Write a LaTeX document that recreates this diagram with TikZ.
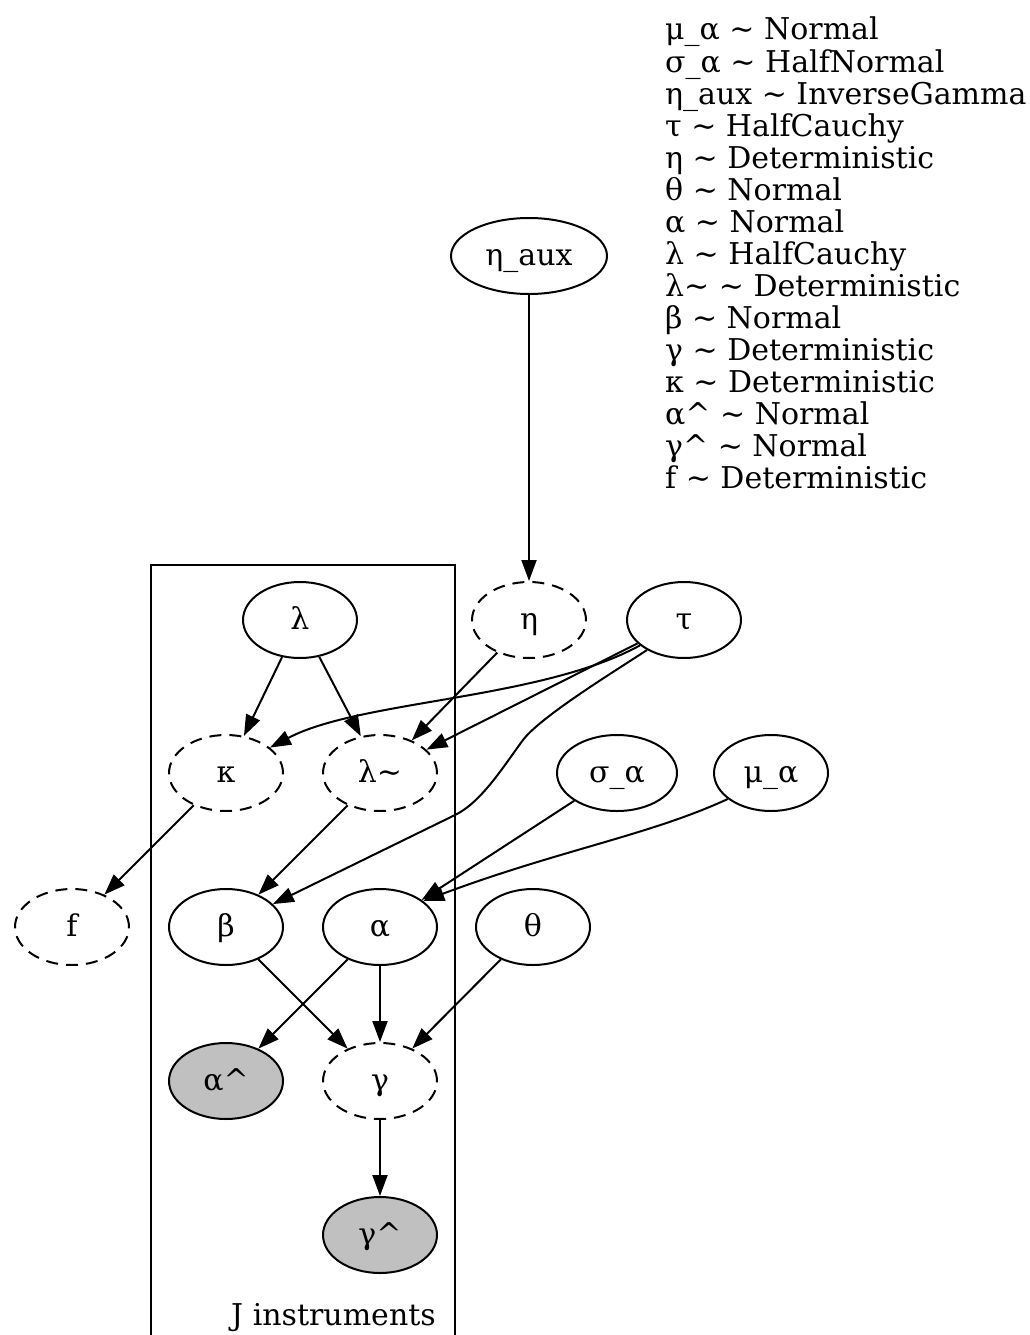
\documentclass[tikz,border=0pt]{standalone}
\usepackage{fontspec}
\setmainfont{DejaVu Serif}
\usetikzlibrary{arrows.meta,shapes.geometric}
\definecolor{obsgray}{HTML}{C0C0C0}
\begin{document}
\begin{tikzpicture}[x=1pt,y=-1pt,
  lbl/.style={font=\fontsize{30}{32}\selectfont},
  rv/.style={ellipse, draw, line width=2pt, minimum width=114pt, minimum height=76pt,
    inner sep=0pt, lbl, text height=19pt, text depth=0pt},
  det/.style={rv, dash pattern=on 12pt off 8pt},
  obs/.style={rv, fill=obsgray},
  edge/.style={-{Triangle[length=21pt,width=15pt]}, line width=2pt}]
\useasboundingbox (0,0) rectangle (1029,1335);
\clip (0,0) rectangle (1029,1335);

% plate
\draw[line width=2pt] (151,1345) -- (151,565) -- (455,565) -- (455,1345);
\node[lbl, anchor=base east, inner sep=0pt] (plabel) at (436,1325) {J instruments};

% legend
\foreach \t [count=\i] in {μ\_α \textasciitilde{} Normal, σ\_α \textasciitilde{} HalfNormal,
  η\_aux \textasciitilde{} InverseGamma, τ \textasciitilde{} HalfCauchy,
  η \textasciitilde{} Deterministic, θ \textasciitilde{} Normal, α \textasciitilde{} Normal,
  λ \textasciitilde{} HalfCauchy, λ\textasciitilde{} \textasciitilde{} Deterministic,
  β \textasciitilde{} Normal, γ \textasciitilde{} Deterministic, κ \textasciitilde{} Deterministic,
  α\textasciicircum{} \textasciitilde{} Normal, γ\textasciicircum{} \textasciitilde{} Normal,
  f \textasciitilde{} Deterministic}
  \node[lbl, anchor=base west, inner sep=0pt] (leg\i) at (665,{40+32.07*(\i-1)}) {\t};

% nodes
\node[rv, minimum width=156pt] (etaaux) at (529,256) {η\_aux};
\node[det] (eta) at (529,620) {η};
\node[rv] (tau) at (684,620) {τ};
\node[rv] (lam) at (300,620) {λ};
\node[det] (kappa) at (226,773) {κ};
\node[det] (lamt) at (380,773) {λ\textasciitilde};
\node[rv, minimum width=120pt] (sigma) at (617,773) {σ\_α};
\node[rv] (mu) at (771,773) {μ\_α};
\node[det] (f) at (72,927) {f};
\node[rv] (beta) at (226,927) {β};
\node[rv] (alpha) at (380,927) {α};
\node[rv] (theta) at (533,927) {θ};
\node[obs] (alphahat) at (226,1081) {α\textasciicircum};
\node[det] (gamma) at (380,1081) {γ};
\node[obs] (gammahat) at (380,1235) {γ\textasciicircum};

% edges
\draw[edge] (etaaux) -- (eta);
\draw[edge] (lam) -- (kappa);
\draw[edge] (lam) -- (lamt);
\draw[edge] (eta) -- (lamt);
\draw[edge] (tau.210) .. controls (540,700) and (360,700) .. (kappa.30);
\draw[edge] (tau) -- (lamt);
\draw[edge] (tau.219) .. controls (620,668) and (541,716) .. (523,740)
  .. controls (505,764) and (482,802) .. (455,815) -- (beta);
\draw[edge] (sigma) -- (alpha);
\draw[edge] (mu.211) .. controls (650,835) and (560,850) .. (alpha.31);
\draw[edge] (kappa) -- (f);
\draw[edge] (lamt) -- (beta);
\draw[edge] (beta) -- (gamma);
\draw[edge] (alpha) -- (alphahat);
\draw[edge] (alpha) -- (gamma);
\draw[edge] (theta) -- (gamma);
\draw[edge] (gamma) -- (gammahat);
\end{tikzpicture}
\end{document}
